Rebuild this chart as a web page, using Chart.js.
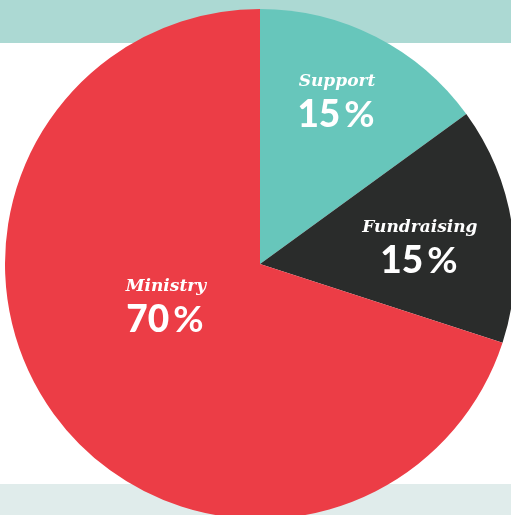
<!DOCTYPE html>
<html>
<head>
<meta charset="utf-8">
<script src="https://cdn.jsdelivr.net/npm/chart.js@4"></script>
<style>
  html, body { margin: 0; padding: 0; width: 511px; height: 515px; overflow: hidden; background: #ffffff; position: relative; }
  .band-top { position: absolute; left: 0; top: 0; width: 511px; height: 43px; background: #acd9d3; }
  .band-bottom { position: absolute; left: 0; top: 484px; width: 511px; height: 31px; background: #e0eceb; }
  #wrap { position: absolute; left: 5px; top: 9px; width: 510px; height: 510px; }
</style>
</head>
<body>
<div class="band-top"></div>
<div class="band-bottom"></div>
<div id="wrap"><canvas id="c" width="510" height="510"></canvas></div>
<script>
const categories = ["Support", "Fundraising", "Ministry"];
const values = [15, 15, 70];
const percentNumbers = ["15", "15", "70"];
const colors = ["#67c6bb", "#2a2c2b", "#ec3d46"];

// label anchor offsets as fractions of the outer radius (name baseline)
const labelOffsets = [[0.302, -0.698], [0.627, -0.125], [-0.369, 0.106]];

const labelPlugin = {
  id: 'sliceLabels',
  afterDatasetsDraw(chart) {
    const ctx = chart.ctx;
    const meta = chart.getDatasetMeta(0);
    meta.data.forEach((arc, i) => {
      const p = arc.getProps(['x', 'y', 'outerRadius'], true);
      const R = p.outerRadius;
      const x = p.x + labelOffsets[i][0] * R;
      const y = p.y + labelOffsets[i][1] * R;
      ctx.save();
      ctx.fillStyle = '#ffffff';
      ctx.textBaseline = 'alphabetic';
      ctx.textAlign = 'center';
      ctx.font = 'italic bold 17px "DejaVu Serif"';
      ctx.fillText(chart.data.labels[i], x, y);
      // number + percent sign with a small gap
      ctx.textAlign = 'left';
      ctx.font = '900 37px Lato';
      const num = percentNumbers[i];
      const wNum = ctx.measureText(num).width;
      ctx.font = '700 37px Lato';
      const wPct = ctx.measureText('%').width;
      const gap = 4;
      const total = wNum + gap + wPct;
      const sx = x - 1 - total / 2;
      ctx.font = '900 37px Lato';
      ctx.fillText(num, sx, y + 41);
      ctx.font = '700 37px Lato';
      ctx.fillText('%', sx + wNum + gap, y + 41);
      ctx.restore();
    });
  }
};

new Chart(document.getElementById('c'), {
  type: 'pie',
  data: {
    labels: categories,
    datasets: [{
      data: values,
      backgroundColor: colors,
      borderWidth: 0
    }]
  },
  options: {
    responsive: false,
    animation: false,
    layout: { padding: 0 },
    plugins: {
      legend: { display: false },
      tooltip: { enabled: false }
    }
  },
  plugins: [labelPlugin]
});
</script>
</body>
</html>
